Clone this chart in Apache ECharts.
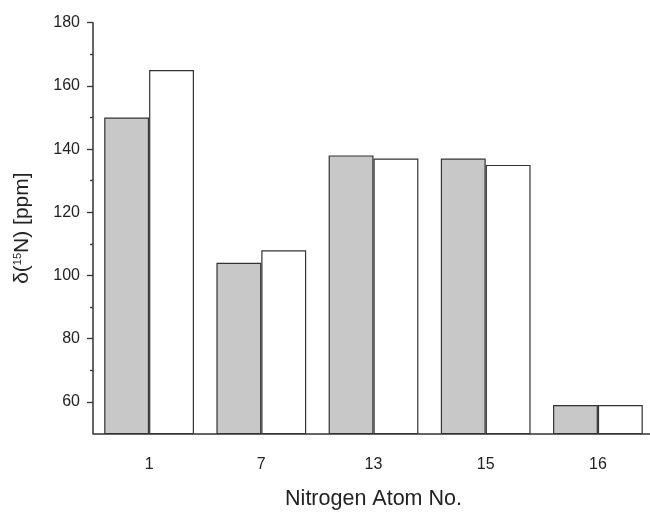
<!DOCTYPE html>
<html>
<head>
<meta charset="utf-8">
<script src="https://cdn.jsdelivr.net/npm/echarts@6/dist/echarts.min.js"></script>
<style>html,body{margin:0;padding:0;background:#fff;}#c{width:650px;height:512px;}</style>
</head>
<body>
<div id="c"></div>
<script>
const categories = ['1', '7', '13', '15', '16'];
const seriesGray = [150, 104, 138, 137, 59];
const seriesWhite = [165, 108, 137, 135, 59];
const yTicks = [60, 80, 100, 120, 140, 160, 180];
const yMinorTicks = [70, 90, 110, 130, 150, 170];

const chart = echarts.init(document.getElementById('c'), null, {renderer: 'canvas'});
const font = 'Liberation Sans, Arial, sans-serif';
const yBase = {
  type: 'value',
  min: 50,
  max: 180,
  interval: 10,
  position: 'left',
  splitLine: {show: false}
};
chart.setOption({
  animation: false,
  backgroundColor: '#fff',
  grid: {left: 93, right: -4, top: 22.7, bottom: 78.5, containLabel: false, outerBoundsMode: 'none'},
  xAxis: {
    type: 'category',
    data: categories,
    name: 'Nitrogen Atom No.',
    nameLocation: 'middle',
    nameGap: 55,
    nameTextStyle: {fontFamily: font, fontSize: 21.5, color: '#222'},
    axisLine: {show: true, lineStyle: {color: '#333', width: 1.5}},
    axisTick: {show: false},
    axisLabel: {margin: 23, fontFamily: font, fontSize: 16, color: '#222'},
    splitLine: {show: false}
  },
  yAxis: [
    Object.assign({}, yBase, {
      name: '{a|δ(}{s|15}{a|N) [ppm]}',
      nameLocation: 'middle',
      nameGap: 60,
      nameRotate: 90,
      nameTextStyle: {
        fontFamily: font, fontSize: 21, color: '#222',
        rich: {
          a: {fontFamily: font, fontSize: 21, color: '#222'},
          s: {fontFamily: font, fontSize: 11, color: '#222', verticalAlign: 'top', padding: [0, 0, 9, 0]}
        }
      },
      axisLine: {show: true, lineStyle: {color: '#333', width: 1.5}},
      axisTick: {show: true, length: 6, customValues: yTicks, lineStyle: {color: '#333', width: 1.3}},
      axisLabel: {margin: 13, customValues: yTicks, fontFamily: font, fontSize: 16, color: '#222'}
    }),
    Object.assign({}, yBase, {
      axisLine: {show: false},
      axisTick: {show: true, length: 3, customValues: yMinorTicks, lineStyle: {color: '#333', width: 1.3}},
      axisLabel: {show: false}
    })
  ],
  series: [
    {
      type: 'bar',
      data: seriesGray,
      barGap: '0%',
      barCategoryGap: '20%',
      itemStyle: {color: '#c8c8c8', borderColor: '#333', borderWidth: 1.2}
    },
    {
      type: 'bar',
      data: seriesWhite,
      itemStyle: {color: '#ffffff', borderColor: '#333', borderWidth: 1.2}
    }
  ]
});
</script>
</body>
</html>
